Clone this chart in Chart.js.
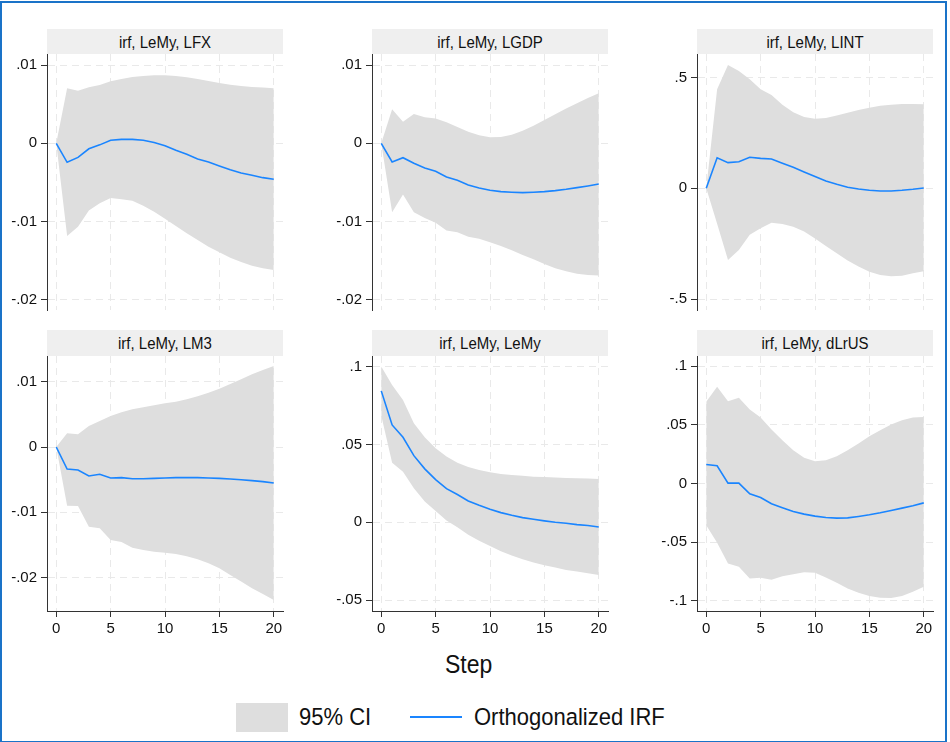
<!DOCTYPE html>
<html>
<head>
<meta charset="utf-8">
<title>IRF LeMy</title>
<script src="https://cdn.jsdelivr.net/npm/chart.js@4.4.1/dist/chart.umd.min.js"></script>
<style>
  body { margin: 0; background: #fff; font-family: "Liberation Sans", Arial, sans-serif; }
  #frame { position: absolute; left: 0; top: 1px; width: 947px; height: 742px; box-sizing: border-box; border: 2px solid #1a73c8; }
  canvas { position: absolute; }
  .hdr { position: absolute; width: 236px; height: 25px; line-height: 25px; background: #efefef; text-align: center; font-size: 15px; color: #111; }
  .hdr span { display: inline-block; transform: scaleY(1.1); }
  .txt { position: absolute; font-size: 22px; color: #111; white-space: nowrap; transform: scaleY(1.12); transform-origin: 50% 50%; }
</style>
</head>
<body>
<div id="frame"></div>

<div class="hdr" style="left:47px; top:29px;"><span>irf, LeMy, LFX</span></div>
<div class="hdr" style="left:372px; top:29px;"><span>irf, LeMy, LGDP</span></div>
<div class="hdr" style="left:697px; top:29px;"><span>irf, LeMy, LINT</span></div>
<div class="hdr" style="left:47px; top:330px; height:26px;"><span>irf, LeMy, LM3</span></div>
<div class="hdr" style="left:372px; top:330px; height:26px;"><span>irf, LeMy, LeMy</span></div>
<div class="hdr" style="left:697px; top:330px; height:26px;"><span>irf, LeMy, dLrUS</span></div>

<canvas id="c1" width="293" height="296" style="left:0px; top:34px;"></canvas>
<canvas id="c2" width="293" height="296" style="left:325px; top:34px;"></canvas>
<canvas id="c3" width="293" height="296" style="left:650px; top:34px;"></canvas>
<canvas id="c4" width="293" height="309" style="left:0px; top:336px;"></canvas>
<canvas id="c5" width="293" height="309" style="left:325px; top:336px;"></canvas>
<canvas id="c6" width="293" height="309" style="left:650px; top:336px;"></canvas>

<div class="txt" style="left:445px; top:651px; font-size:23px;">Step</div>

<div style="position:absolute; left:236px; top:703px; width:52px; height:29px; background:#dedede;"></div>
<div class="txt" style="left:299px; top:704px;">95% CI</div>
<div style="position:absolute; left:410px; top:716px; width:52px; height:2px; background:#1a85ff;"></div>
<div class="txt" style="left:474px; top:704px;">Orthogonalized IRF</div>

<script>
// steps 0..20
var steps = [0, 1, 2, 3, 4, 5, 6, 7, 8, 9, 10, 11, 12, 13, 14, 15, 16, 17, 18, 19, 20];
var xTicks = [0, 5, 10, 15, 20];

// irf, LeMy, LFX
var irfLFX = [0, -0.00243, -0.0018, -0.0007, -0.0002, 0.0004, 0.0005, 0.0005, 0.0004, 0.0001, -0.0003, -0.0009, -0.0014, -0.002, -0.0024, -0.0029, -0.0034, -0.0038, -0.0041, -0.0044, -0.0046];
var loLFX = [0, -0.01187, -0.01067, -0.00862, -0.00768, -0.007, -0.00717, -0.00734, -0.00798, -0.00875, -0.00965, -0.01058, -0.01152, -0.01238, -0.01323, -0.01396, -0.01464, -0.0152, -0.01567, -0.01601, -0.01622];
var hiLFX = [0, 0.00704, 0.00674, 0.00717, 0.00747, 0.00794, 0.00824, 0.0085, 0.00862, 0.0087, 0.0087, 0.00862, 0.00845, 0.00824, 0.00798, 0.00772, 0.0075, 0.00734, 0.0072, 0.00713, 0.00704];

// irf, LeMy, LGDP
var irfLGDP = [0, -0.00239, -0.00184, -0.00256, -0.00316, -0.00359, -0.00431, -0.00474, -0.00534, -0.00572, -0.00602, -0.00619, -0.00627, -0.00632, -0.00627, -0.00619, -0.00606, -0.00589, -0.00568, -0.00546, -0.00521];
var loLGDP = [0, -0.00883, -0.00657, -0.00883, -0.00956, -0.01016, -0.01118, -0.0114, -0.01195, -0.01221, -0.01268, -0.01315, -0.0137, -0.0143, -0.01485, -0.01545, -0.016, -0.01639, -0.01669, -0.01686, -0.01694];
var hiLGDP = [0, 0.00435, 0.00277, 0.00376, 0.00333, 0.00316, 0.00269, 0.00209, 0.00149, 0.00102, 0.00077, 0.00081, 0.00111, 0.00162, 0.00226, 0.00299, 0.00371, 0.00444, 0.00512, 0.0058, 0.0064];

// irf, LeMy, LINT
var irfLINT = [0, 0.138, 0.116, 0.12, 0.14, 0.135, 0.132, 0.113, 0.095, 0.074, 0.053, 0.033, 0.018, 0.0045, -0.003, -0.009, -0.012, -0.012, -0.009, -0.0045, 0.0015];
var loLINT = [0, -0.16, -0.323, -0.278, -0.21, -0.18, -0.155, -0.161, -0.173, -0.195, -0.226, -0.26, -0.293, -0.326, -0.353, -0.376, -0.391, -0.397, -0.394, -0.383, -0.374];
var hiLINT = [0, 0.447, 0.556, 0.529, 0.492, 0.447, 0.421, 0.377, 0.343, 0.322, 0.314, 0.317, 0.328, 0.341, 0.353, 0.364, 0.373, 0.377, 0.38, 0.38, 0.379];

// irf, LeMy, LM3
var irfLM3 = [0, -0.00337, -0.00352, -0.00444, -0.00418, -0.00474, -0.00469, -0.00485, -0.00485, -0.0048, -0.00474, -0.00469, -0.00469, -0.00469, -0.00474, -0.0048, -0.0049, -0.005, -0.00515, -0.0053, -0.00551];
var loLM3 = [0, -0.00898, -0.00903, -0.01219, -0.01245, -0.01423, -0.01454, -0.01541, -0.01577, -0.01602, -0.01617, -0.01638, -0.01673, -0.01719, -0.0178, -0.01857, -0.01959, -0.0206, -0.02163, -0.0225, -0.02342];
var hiLM3 = [0, 0.00209, 0.00194, 0.00321, 0.00398, 0.00474, 0.00531, 0.00577, 0.00607, 0.00638, 0.00668, 0.00694, 0.0073, 0.00776, 0.00832, 0.00893, 0.00964, 0.01036, 0.01112, 0.01179, 0.0124];

// irf, LeMy, LeMy
var irfLeMy = [0.0844, 0.0625, 0.0546, 0.0428, 0.0343, 0.0274, 0.0216, 0.0178, 0.0137, 0.0109, 0.0084, 0.0062, 0.0045, 0.003, 0.0019, 0.0009, 0, -0.0006, -0.0015, -0.0021, -0.003];
var loLeMy = [0.0685, 0.0383, 0.0325, 0.0218, 0.0133, 0.0073, 0.0011, -0.0032, -0.0081, -0.0118, -0.0152, -0.0186, -0.0214, -0.0238, -0.0259, -0.0276, -0.0291, -0.0306, -0.0317, -0.0328, -0.0338];
var hiLeMy = [0.1, 0.0882, 0.0786, 0.0636, 0.0546, 0.0475, 0.0422, 0.0383, 0.0355, 0.0336, 0.0321, 0.031, 0.0304, 0.0298, 0.0293, 0.0291, 0.0287, 0.0285, 0.0283, 0.0281, 0.0278];

// irf, LeMy, dLrUS
var irfdLrUS = [0.0162, 0.0151, 0.0003, 0.0003, -0.0088, -0.0119, -0.0173, -0.0207, -0.0239, -0.0261, -0.0278, -0.029, -0.0295, -0.0293, -0.0281, -0.0267, -0.025, -0.023, -0.021, -0.019, -0.0165];
var lodLrUS = [-0.0355, -0.0506, -0.0682, -0.071, -0.081, -0.0804, -0.0821, -0.079, -0.0773, -0.0756, -0.0761, -0.0801, -0.0847, -0.0895, -0.0932, -0.096, -0.0974, -0.0977, -0.096, -0.0923, -0.0881];
var hidLrUS = [0.0696, 0.0824, 0.0702, 0.073, 0.0631, 0.0563, 0.046, 0.0369, 0.0284, 0.0219, 0.019, 0.0199, 0.0233, 0.0284, 0.0341, 0.0403, 0.0455, 0.0503, 0.054, 0.0563, 0.0568];

// y tick values and their labels
var yTicksSmall = [-0.02, -0.01, 0, 0.01];
var yLabelsSmall = ['-.02', '-.01', '0', '.01'];
var yTicksLINT = [-0.5, 0, 0.5];
var yLabelsLINT = ['-.5', '0', '.5'];
var yTicksLeMy = [-0.05, 0, 0.05, 0.1];
var yLabelsLeMy = ['-.05', '0', '.05', '.1'];
var yTicksdLrUS = [-0.1, -0.05, 0, 0.05, 0.1];
var yLabelsdLrUS = ['-.1', '-.05', '0', '.05', '.1'];

var tickFont = { family: '"Liberation Sans", Arial, sans-serif', size: 15 };

function pts(arr) {
  return steps.map(function (s, i) { return { x: s, y: arr[i] }; });
}

// padding keeps the plot area fixed no matter how Chart.js pads for tick labels
function panel(id, irf, lo, hi, yTicks, yLabels, yMin, yMax, bottom) {
  var ctx = document.getElementById(id).getContext('2d');
  return new Chart(ctx, {
    type: 'line',
    data: {
      datasets: [
        { label: 'Orthogonalized IRF', data: pts(irf), borderColor: '#1a85ff', borderWidth: 1.6, pointRadius: 0, fill: false },
        { label: '95% CI', data: pts(hi), borderWidth: 0, borderColor: 'rgba(0,0,0,0)', pointRadius: 0, backgroundColor: '#dedede', fill: '+1' },
        { label: 'lower', data: pts(lo), borderWidth: 0, borderColor: 'rgba(0,0,0,0)', pointRadius: 0, fill: false }
      ]
    },
    options: {
      responsive: false,
      animation: false,
      layout: { padding: { left: 0, right: 10, top: 20, bottom: bottom ? 0 : 20 } },
      plugins: { legend: { display: false }, tooltip: { enabled: false } },
      scales: {
        x: {
          type: 'linear', min: -0.85, max: 20.85,
          afterBuildTicks: function (s) { s.ticks = xTicks.map(function (v) { return { value: v }; }); },
          afterFit: function (s) { s.height = bottom ? 34 : 0; },
          ticks: { display: bottom, font: tickFont, color: '#111', padding: 3, maxRotation: 0 },
          grid: { color: '#e9e9e9', lineWidth: 1, drawTicks: bottom, tickLength: 6, tickColor: '#333' },
          border: { display: bottom, color: '#333', width: 1, dash: [7, 5] }
        },
        y: {
          type: 'linear', min: yMin, max: yMax,
          afterBuildTicks: function (s) { s.ticks = yTicks.map(function (v) { return { value: v }; }); },
          afterFit: function (s) { s.width = 47; },
          ticks: {
            font: tickFont, color: '#111', padding: 4,
            callback: function (v) { var k = yTicks.indexOf(v); return k >= 0 ? yLabels[k] : ''; }
          },
          grid: { color: '#e9e9e9', lineWidth: 1, drawTicks: true, tickLength: 6, tickColor: '#333' },
          border: { display: true, color: '#333', width: 1, dash: [7, 5] }
        }
      }
    }
  });
}

panel('c1', irfLFX, loLFX, hiLFX, yTicksSmall, yLabelsSmall, -0.021344, 0.011434, false);
panel('c2', irfLGDP, loLGDP, hiLGDP, yTicksSmall, yLabelsSmall, -0.021344, 0.011434, false);
panel('c3', irfLINT, loLINT, hiLINT, yTicksLINT, yLabelsLINT, -0.549, 0.606, false);
panel('c4', irfLM3, loLM3, hiLM3, yTicksSmall, yLabelsSmall, -0.0251, 0.01393, true);
panel('c5', irfLeMy, loLeMy, hiLeMy, yTicksLeMy, yLabelsLeMy, -0.057, 0.1068, true);
panel('c6', irfdLrUS, lodLrUS, hidLrUS, yTicksdLrUS, yLabelsdLrUS, -0.1087, 0.1087, true);
</script>
</body>
</html>
